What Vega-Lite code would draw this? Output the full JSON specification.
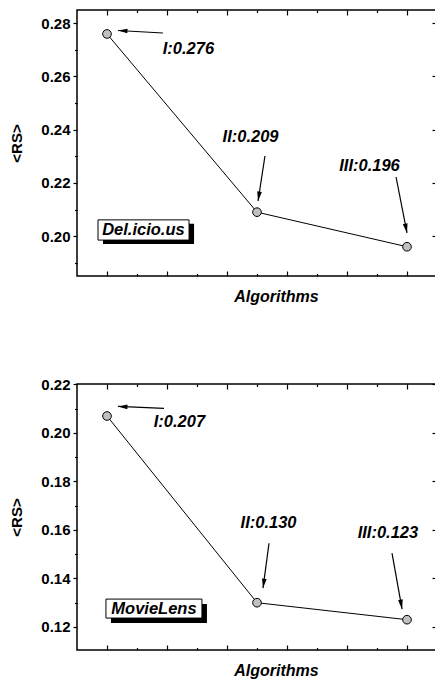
{
  "$schema": "https://vega.github.io/schema/vega-lite/v6.json",
  "padding": {"left": 9, "top": 8, "right": 0, "bottom": 0},
  "spacing": 70,
  "config": {
    "font": "Liberation Sans",
    "view": {"stroke": "black", "strokeWidth": 1.5},
    "axis": {"domain": false, "grid": false, "tickColor": "black", "labelColor": "black", "titleColor": "black", "tickWidth": 1.2}
  },
  "vconcat": [
    {
      "width": 360,
      "height": 266,
      "layer": [
        {
          "data": {"values": [{"alg": 1, "rs": 0.276}, {"alg": 2, "rs": 0.209}, {"alg": 3, "rs": 0.196}]},
          "mark": {"type": "line", "color": "black", "strokeWidth": 1},
          "encoding": {
            "x": {"field": "alg", "type": "quantitative", "scale": {"domain": [0.8, 3.2], "nice": false, "zero": false},
              "axis": {"orient": "bottom", "values": [1, 1.2, 1.4, 1.6, 1.8, 2, 2.2, 2.4, 2.6, 2.8, 3], "labels": false,
                "tickSize": {"condition": {"test": "round(datum.value*10)%4==2", "value": -5}, "value": -2.5},
                "title": "Algorithms", "titleFontSize": 16, "titleFontWeight": "bold", "titleFontStyle": "italic", "titlePadding": 12, "titleX": 199}},
            "y": {"field": "rs", "type": "quantitative", "scale": {"domain": [0.185, 0.285], "nice": false, "zero": false},
              "axis": {"orient": "left", "values": [0.19, 0.2, 0.21, 0.22, 0.23, 0.24, 0.25, 0.26, 0.27, 0.28],
                "labelExpr": "round(datum.value*100)%2==0 ? format(datum.value,'.2f') : ''",
                "labelFontSize": 15, "labelFontWeight": "bold", "labelPadding": 3,
                "tickSize": {"condition": {"test": "round(datum.value*100)%2==0", "value": 4}, "value": 2.5},
                "title": "<RS>", "titleFontSize": 15, "titleFontWeight": "bold", "titlePadding": 16}}
          }
        },
        {
          "data": {"values": [{"alg": 1, "rs": 0.276}, {"alg": 2, "rs": 0.209}, {"alg": 3, "rs": 0.196}]},
          "mark": {"type": "point", "shape": "circle", "filled": true, "fill": "#c0c0c0", "stroke": "black", "strokeWidth": 1, "size": 75, "opacity": 1},
          "encoding": {
            "x": {"field": "alg", "type": "quantitative",
              "axis": {"orient": "top", "values": [1, 1.2, 1.4, 1.6, 1.8, 2, 2.2, 2.4, 2.6, 2.8, 3], "labels": false, "title": null,
                "tickSize": {"condition": {"test": "round(datum.value*10)%4==2", "value": -5}, "value": -2.5}}},
            "y": {"field": "rs", "type": "quantitative",
              "axis": {"orient": "right", "values": [0.19, 0.2, 0.21, 0.22, 0.23, 0.24, 0.25, 0.26, 0.27, 0.28], "labels": false, "title": null,
                "tickSize": {"condition": {"test": "round(datum.value*100)%2==0", "value": -5}, "value": -2.5}}}
          }
        },
        {
          "data": {"values": [
            {"name": "I", "x": 1.373, "y": 0.27635, "x2": 1.073, "y2": 0.27729},
            {"name": "II", "x": 2.053, "y": 0.23011, "x2": 2.007, "y2": 0.2132},
            {"name": "III", "x": 2.927, "y": 0.22222, "x2": 3.0, "y2": 0.20117}
          ]},
          "mark": {"type": "rule", "color": "black", "strokeWidth": 1.2},
          "encoding": {
            "x": {"field": "x", "type": "quantitative", "axis": null},
            "y": {"field": "y", "type": "quantitative", "axis": null},
            "x2": {"field": "x2"},
            "y2": {"field": "y2"}
          }
        },
        {
          "data": {"values": [{"name": "I", "x": 1.073, "y": 0.27729}]},
          "mark": {"type": "point", "shape": "M0,0L-0.5,-2L0.5,-2Z", "filled": true, "color": "black", "opacity": 1, "size": 90, "angle": 93},
          "encoding": {"x": {"field": "x", "type": "quantitative", "axis": null}, "y": {"field": "y", "type": "quantitative", "axis": null}}
        },
        {
          "data": {"values": [{"name": "II", "x": 2.007, "y": 0.2132}]},
          "mark": {"type": "point", "shape": "M0,0L-0.5,-2L0.5,-2Z", "filled": true, "color": "black", "opacity": 1, "size": 90, "angle": 9},
          "encoding": {"x": {"field": "x", "type": "quantitative", "axis": null}, "y": {"field": "y", "type": "quantitative", "axis": null}}
        },
        {
          "data": {"values": [{"name": "III", "x": 3.0, "y": 0.20117}]},
          "mark": {"type": "point", "shape": "M0,0L-0.5,-2L0.5,-2Z", "filled": true, "color": "black", "opacity": 1, "size": 90, "angle": -11},
          "encoding": {"x": {"field": "x", "type": "quantitative", "axis": null}, "y": {"field": "y", "type": "quantitative", "axis": null}}
        },
        {
          "data": {"values": [
            {"label": "I:0.276", "x": 1.543, "y": 0.2703},
            {"label": "II:0.209", "x": 1.957, "y": 0.2373},
            {"label": "III:0.196", "x": 2.75, "y": 0.2263}
          ]},
          "mark": {"type": "text", "fontSize": 16.5, "fontWeight": "bold", "fontStyle": "italic", "color": "black", "align": "center", "baseline": "middle"},
          "encoding": {
            "x": {"field": "x", "type": "quantitative", "axis": null},
            "y": {"field": "y", "type": "quantitative", "axis": null},
            "text": {"field": "label"}
          }
        },
        {
          "data": {"values": [{"name": "Del.icio.us", "x": 0.94, "x2": 1.547, "y": 0.2061, "y2": 0.1985, "tx": 1.243, "ty": 0.2023}]},
          "mark": {"type": "rect", "color": "black", "xOffset": 5, "x2Offset": 5, "yOffset": 4, "y2Offset": 4},
          "encoding": {
            "x": {"field": "x", "type": "quantitative", "axis": null},
            "y": {"field": "y", "type": "quantitative", "axis": null},
            "x2": {"field": "x2"},
            "y2": {"field": "y2"}
          }
        },
        {
          "data": {"values": [{"name": "Del.icio.us", "x": 0.94, "x2": 1.547, "y": 0.2061, "y2": 0.1985, "tx": 1.243, "ty": 0.2023}]},
          "mark": {"type": "rect", "fill": "white", "stroke": "black", "strokeWidth": 1},
          "encoding": {
            "x": {"field": "x", "type": "quantitative", "axis": null},
            "y": {"field": "y", "type": "quantitative", "axis": null},
            "x2": {"field": "x2"},
            "y2": {"field": "y2"}
          }
        },
        {
          "data": {"values": [{"name": "Del.icio.us", "x": 0.94, "x2": 1.547, "y": 0.2061, "y2": 0.1985, "tx": 1.243, "ty": 0.2023}]},
          "mark": {"type": "text", "fontSize": 16.5, "fontWeight": "bold", "fontStyle": "italic", "color": "black", "align": "center", "baseline": "middle"},
          "encoding": {
            "x": {"field": "tx", "type": "quantitative", "axis": null},
            "y": {"field": "ty", "type": "quantitative", "axis": null},
            "text": {"field": "name"}
          }
        }
      ],
      "resolve": {"axis": {"x": "independent", "y": "independent"}}
    },
    {
      "width": 360,
      "height": 266,
      "layer": [
        {
          "data": {"values": [{"alg": 1, "rs": 0.207}, {"alg": 2, "rs": 0.130}, {"alg": 3, "rs": 0.123}]},
          "mark": {"type": "line", "color": "black", "strokeWidth": 1},
          "encoding": {
            "x": {"field": "alg", "type": "quantitative", "scale": {"domain": [0.8, 3.2], "nice": false, "zero": false},
              "axis": {"orient": "bottom", "values": [1, 1.2, 1.4, 1.6, 1.8, 2, 2.2, 2.4, 2.6, 2.8, 3], "labels": false,
                "tickSize": {"condition": {"test": "round(datum.value*10)%4==2", "value": -5}, "value": -2.5},
                "title": "Algorithms", "titleFontSize": 16, "titleFontWeight": "bold", "titleFontStyle": "italic", "titlePadding": 12, "titleX": 199}},
            "y": {"field": "rs", "type": "quantitative", "scale": {"domain": [0.1105, 0.2202], "nice": false, "zero": false},
              "axis": {"orient": "left", "values": [0.12, 0.13, 0.14, 0.15, 0.16, 0.17, 0.18, 0.19, 0.2, 0.21, 0.22],
                "labelExpr": "round(datum.value*100)%2==0 ? format(datum.value,'.2f') : ''",
                "labelFontSize": 15, "labelFontWeight": "bold", "labelPadding": 3,
                "tickSize": {"condition": {"test": "round(datum.value*100)%2==0", "value": 4}, "value": 2.5},
                "title": "<RS>", "titleFontSize": 15, "titleFontWeight": "bold", "titlePadding": 16}}
          }
        },
        {
          "data": {"values": [{"alg": 1, "rs": 0.207}, {"alg": 2, "rs": 0.130}, {"alg": 3, "rs": 0.123}]},
          "mark": {"type": "point", "shape": "circle", "filled": true, "fill": "#c0c0c0", "stroke": "black", "strokeWidth": 1, "size": 75, "opacity": 1},
          "encoding": {
            "x": {"field": "alg", "type": "quantitative",
              "axis": {"orient": "top", "values": [1, 1.2, 1.4, 1.6, 1.8, 2, 2.2, 2.4, 2.6, 2.8, 3], "labels": false, "title": null,
                "tickSize": {"condition": {"test": "round(datum.value*10)%4==2", "value": -5}, "value": -2.5}}},
            "y": {"field": "rs", "type": "quantitative",
              "axis": {"orient": "right", "values": [0.12, 0.13, 0.14, 0.15, 0.16, 0.17, 0.18, 0.19, 0.2, 0.21, 0.22], "labels": false, "title": null,
                "tickSize": {"condition": {"test": "round(datum.value*100)%2==0", "value": -5}, "value": -2.5}}}
          }
        },
        {
          "data": {"values": [
            {"name": "I", "x": 1.38, "y": 0.21012, "x2": 1.073, "y2": 0.21094},
            {"name": "II", "x": 2.08, "y": 0.15454, "x2": 2.04, "y2": 0.13602},
            {"name": "III", "x": 2.9, "y": 0.15042, "x2": 2.967, "y2": 0.12737}
          ]},
          "mark": {"type": "rule", "color": "black", "strokeWidth": 1.2},
          "encoding": {
            "x": {"field": "x", "type": "quantitative", "axis": null},
            "y": {"field": "y", "type": "quantitative", "axis": null},
            "x2": {"field": "x2"},
            "y2": {"field": "y2"}
          }
        },
        {
          "data": {"values": [{"name": "I", "x": 1.073, "y": 0.21094}]},
          "mark": {"type": "point", "shape": "M0,0L-0.5,-2L0.5,-2Z", "filled": true, "color": "black", "opacity": 1, "size": 90, "angle": 92},
          "encoding": {"x": {"field": "x", "type": "quantitative", "axis": null}, "y": {"field": "y", "type": "quantitative", "axis": null}}
        },
        {
          "data": {"values": [{"name": "II", "x": 2.04, "y": 0.13602}]},
          "mark": {"type": "point", "shape": "M0,0L-0.5,-2L0.5,-2Z", "filled": true, "color": "black", "opacity": 1, "size": 90, "angle": 8},
          "encoding": {"x": {"field": "x", "type": "quantitative", "axis": null}, "y": {"field": "y", "type": "quantitative", "axis": null}}
        },
        {
          "data": {"values": [{"name": "III", "x": 2.967, "y": 0.12737}]},
          "mark": {"type": "point", "shape": "M0,0L-0.5,-2L0.5,-2Z", "filled": true, "color": "black", "opacity": 1, "size": 90, "angle": -10},
          "encoding": {"x": {"field": "x", "type": "quantitative", "axis": null}, "y": {"field": "y", "type": "quantitative", "axis": null}}
        },
        {
          "data": {"values": [
            {"label": "I:0.207", "x": 1.483, "y": 0.2044},
            {"label": "II:0.130", "x": 2.077, "y": 0.1628},
            {"label": "III:0.123", "x": 2.873, "y": 0.1587}
          ]},
          "mark": {"type": "text", "fontSize": 16.5, "fontWeight": "bold", "fontStyle": "italic", "color": "black", "align": "center", "baseline": "middle"},
          "encoding": {
            "x": {"field": "x", "type": "quantitative", "axis": null},
            "y": {"field": "y", "type": "quantitative", "axis": null},
            "text": {"field": "label"}
          }
        },
        {
          "data": {"values": [{"name": "MovieLens", "x": 0.993, "x2": 1.633, "y": 0.1315, "y2": 0.12367, "tx": 1.313, "ty": 0.12758}]},
          "mark": {"type": "rect", "color": "black", "xOffset": 5, "x2Offset": 5, "yOffset": 5, "y2Offset": 5},
          "encoding": {
            "x": {"field": "x", "type": "quantitative", "axis": null},
            "y": {"field": "y", "type": "quantitative", "axis": null},
            "x2": {"field": "x2"},
            "y2": {"field": "y2"}
          }
        },
        {
          "data": {"values": [{"name": "MovieLens", "x": 0.993, "x2": 1.633, "y": 0.1315, "y2": 0.12367, "tx": 1.313, "ty": 0.12758}]},
          "mark": {"type": "rect", "fill": "white", "stroke": "black", "strokeWidth": 1},
          "encoding": {
            "x": {"field": "x", "type": "quantitative", "axis": null},
            "y": {"field": "y", "type": "quantitative", "axis": null},
            "x2": {"field": "x2"},
            "y2": {"field": "y2"}
          }
        },
        {
          "data": {"values": [{"name": "MovieLens", "x": 0.993, "x2": 1.633, "y": 0.1315, "y2": 0.12367, "tx": 1.313, "ty": 0.12758}]},
          "mark": {"type": "text", "fontSize": 16.5, "fontWeight": "bold", "fontStyle": "italic", "color": "black", "align": "center", "baseline": "middle"},
          "encoding": {
            "x": {"field": "tx", "type": "quantitative", "axis": null},
            "y": {"field": "ty", "type": "quantitative", "axis": null},
            "text": {"field": "name"}
          }
        }
      ],
      "resolve": {"axis": {"x": "independent", "y": "independent"}}
    }
  ]
}
